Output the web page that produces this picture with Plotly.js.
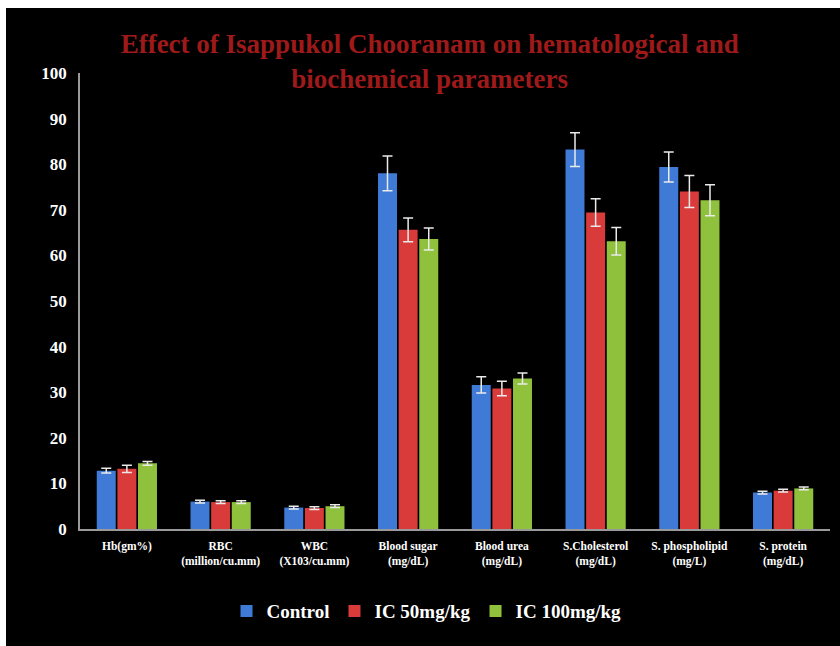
<!DOCTYPE html>
<html>
<head>
<meta charset="utf-8">
<script src="https://cdn.plot.ly/plotly-3.0.1.min.js"></script>
<style>
html,body{margin:0;padding:0;background:#ffffff;width:840px;height:646px;overflow:hidden;}
#chart{position:absolute;left:6px;top:8px;width:834px;height:638px;}
</style>
</head>
<body>
<div id="chart"></div>
<script>
const categories = ["Hb(gm%)", "RBC<br>(million/cu.mm)", "WBC<br>(X103/cu.mm)", "Blood sugar<br>(mg/dL)", "Blood urea<br>(mg/dL)", "S.Cholesterol<br>(mg/dL)", "S. phospholipid<br>(mg/L)", "S. protein<br>(mg/dL)"];
const seriesNames = ["Control", "IC 50mg/kg", "IC 100mg/kg"];
const control = [12.8, 6.0, 4.7, 78.0, 31.6, 83.2, 79.4, 8.0];
const ic50 = [13.2, 5.9, 4.6, 65.6, 30.8, 69.4, 74.0, 8.4];
const ic100 = [14.4, 5.9, 5.0, 63.6, 33.0, 63.1, 72.1, 8.9];
const controlErr = [0.5, 0.3, 0.3, 3.8, 1.8, 3.7, 3.3, 0.3];
const ic50Err = [0.8, 0.3, 0.3, 2.6, 1.6, 3.0, 3.5, 0.3];
const ic100Err = [0.4, 0.3, 0.3, 2.4, 1.2, 3.0, 3.4, 0.3];
const yTicks = [0, 10, 20, 30, 40, 50, 60, 70, 80, 90, 100];

const colors = ["#3f7bd6", "#d93a3a", "#8fc13c"];
const serif = "Liberation Serif";

function mk(name, vals, errs, color) {
  return {
    type: "bar", name: "<b>" + name + "</b>", x: categories, y: vals,
    marker: {color: color, line: {width: 0}},
    error_y: {type: "data", array: errs, visible: true, color: "#eaeaea", thickness: 1.5, width: 5}
  };
}
const data = [
  mk(seriesNames[0], control, controlErr, colors[0]),
  mk(seriesNames[1], ic50, ic50Err, colors[1]),
  mk(seriesNames[2], ic100, ic100Err, colors[2])
];

const layout = {
  width: 834, height: 638,
  font: {family: serif, color: "#ffffff"},
  paper_bgcolor: "#000000", plot_bgcolor: "#000000",
  margin: {l: 74, r: 10, t: 65, b: 117},
  barmode: "group", bargap: 0.34, bargroupgap: 0.08,
  title: {
    text: "Effect of Isappukol Chooranam on hematological and<br>biochemical parameters",
    font: {family: serif, size: 27, color: "#9e1a1a", weight: "bold"},
    x: 0.508, xanchor: "center", y: 0.93, yanchor: "top", xref: "container", yref: "container"
  },
  xaxis: {
    showline: true, linecolor: "#9a9a9a", linewidth: 1.5, showgrid: false, ticks: "outside", ticklen: 5, tickcolor: "rgba(0,0,0,0)",
    tickfont: {family: serif, size: 11.5, color: "#ffffff", weight: "bold"},
    tickangle: 0
  },
  yaxis: {
    range: [0, 100], tickvals: yTicks, ticktext: yTicks.map(String),
    showline: true, linecolor: "#9a9a9a", linewidth: 1.5, showgrid: false, zeroline: false, ticks: "",
    tickfont: {family: serif, size: 17, color: "#ffffff", weight: "bold"},
    ticklabelstandoff: 8
  },
  showlegend: true,
  legend: {
    orientation: "h", x: 0.462, xanchor: "center", y: -0.18, yanchor: "middle",
    font: {family: "Liberation Serif, serif", size: 19, color: "#ffffff"},
    bgcolor: "rgba(0,0,0,0)", itemwidth: 30
  }
};
Plotly.newPlot("chart", data, layout, {displayModeBar: false});
</script>
</body>
</html>
